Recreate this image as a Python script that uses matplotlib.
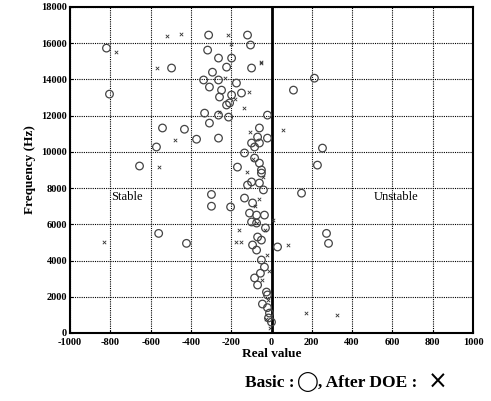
import matplotlib
matplotlib.use("Agg")
import matplotlib.pyplot as plt

# Basic (circles) - real value, frequency
basic_real = [-819, -804, -496, -541, -432, -571, -372, -263, -655, -560, -422,
              -298, -298, -203,
              -312, -119, -104, -317, -263, -198, -223, -99, -293, -337, -263, -174,
              -308, -248, -149, -198, -258, -208, -223,
              -332, -263, -213, -20, -308, -60, -69, -20, -99, -60, -84,
              -134, -169, -84, -60, -50,
              -50, -99, -60, -119, -134, -94, -109, -74, -35, -99, -74,
              -69, -50, -94, -74, 30,
              -50, -35, -84, -69, -25, -20, -10, -15, 0, -40, -30, -55, -45, -20,
              213, 109, 253, 228, 149, 273, 283]
basic_freq = [15730, 13190, 14630, 11320, 11250, 10270, 10700, 10760, 9220, 5500, 4950,
              7650, 7000, 6960,
              16450, 16450, 15900, 15620, 15180, 15180, 14680, 14630, 14400, 13970, 13970, 13800,
              13580, 13410, 13250, 13140, 13030, 12700, 12590,
              12140, 12030, 11920, 12030, 11590, 11320, 10820, 10760, 10490, 10490, 10270,
              9940, 9160, 9660, 9380, 9000,
              8830, 8340, 8280, 8170, 7450, 7180, 6620, 6510, 6510, 6130, 6070,
              5300, 5130, 4860, 4580, 4750,
              4030, 3640, 3040, 2650, 2260, 2100, 1100, 830, 600, 7900, 5800, 3300, 1600, 1400,
              14070, 13410, 10210, 9270, 7720, 5500, 4950]

# After DOE (crosses)
doe_real = [-520, -450, -774, -566, -481, -556, -218, -50, -134, -109, 55, -50,
            -159, -174, -149, 5, 84, 323, -833, -200, -230, -110, -40, -60, -30, -20,
            -10, -70, -90, -45, -15, -25, -5, -80, -120, -260, 170, -180]
doe_freq = [16400, 16500, 15510, 14630, 10650, 9160, 16450, 14960, 12420, 11100, 11200, 14900,
            5690, 5020, 5020, 6240, 4860, 1000, 5020, 15950, 14100, 13300, 8600, 7400, 5700, 4300,
            3400, 6100, 9600, 2900, 1800, 800, 300, 7000, 8900, 12200, 1100, 12900]

x_ticks = [-1000, -800, -600, -400, -200, 0, 200, 400, 600, 800, 1000]
y_ticks = [0, 2000, 4000, 6000, 8000, 10000, 12000, 14000, 16000, 18000]

serif = ['Liberation Serif', 'DejaVu Serif']
plt.rcParams['font.family'] = serif

fig = plt.figure(figsize=(4.91, 4.01), dpi=100)
ax = fig.add_axes([70/491, 1-333/401, (473-70)/491, (333-7)/401])

ax.grid(True, color='black', linestyle=(0, (1, 1)), linewidth=0.8)
ax.set_axisbelow(True)
ax.plot([0, 0], [0, 18000], color='black', linewidth=2.0, zorder=2)
ax.scatter(basic_real, basic_freq, s=30, facecolors='none', edgecolors='#444444',
           linewidths=0.9, zorder=3)
ax.scatter(doe_real, doe_freq, s=6, marker='x', color='#333333', linewidths=0.6, zorder=3)

ax.set_xlim(-1000, 1000)
ax.set_ylim(0, 18000)
ax.set_xticks(x_ticks)
ax.set_yticks(y_ticks)
ax.set_xticklabels([str(v) for v in x_ticks], fontsize=7.5, fontweight='bold')
ax.set_yticklabels([str(v) for v in y_ticks], fontsize=7.5, fontweight='bold')
ax.tick_params(axis='x', direction='in', length=2, pad=3.5)
ax.tick_params(axis='y', direction='in', length=2, pad=2)
for s in ax.spines.values():
    s.set_linewidth(1.5)

ax.text(-720, 7500, 'Stable', fontsize=9, ha='center', va='center')
ax.text(620, 7500, 'Unstable', fontsize=9, ha='center', va='center')

ax.set_xlabel('Real value', fontsize=9.5, fontweight='bold', labelpad=1)
ax.set_ylabel('Frequency (Hz)', fontsize=9.5, fontweight='bold', labelpad=4)

t1 = fig.text(245/491, 0.045, 'Basic :', fontsize=12.5, fontweight='bold',
              ha='left', va='center', family=serif)
t2 = fig.text(0, 0, '\u25EF', fontsize=14, fontweight='bold',
              ha='left', va='center', family=['DejaVu Sans'])
t3 = fig.text(0, 0, ', After DOE :', fontsize=12.5, fontweight='bold',
              ha='left', va='center', family=serif)
t4 = fig.text(0, 0, '\u00D7', fontsize=17, ha='left', va='center', family=['DejaVu Sans'])

fig.canvas.draw()
r = fig.canvas.get_renderer()
W, H = fig.bbox.width, fig.bbox.height
def place_after(prev, t, gap_px, dy=0.0):
    bb = prev.get_window_extent(r)
    t.set_position(((bb.x1 + gap_px) / W, 0.045 + dy))
place_after(t1, t2, 2, 0.002)
place_after(t2, t3, 0)
place_after(t3, t4, 10, 0.002)

fig.savefig('out.png', dpi=100)
